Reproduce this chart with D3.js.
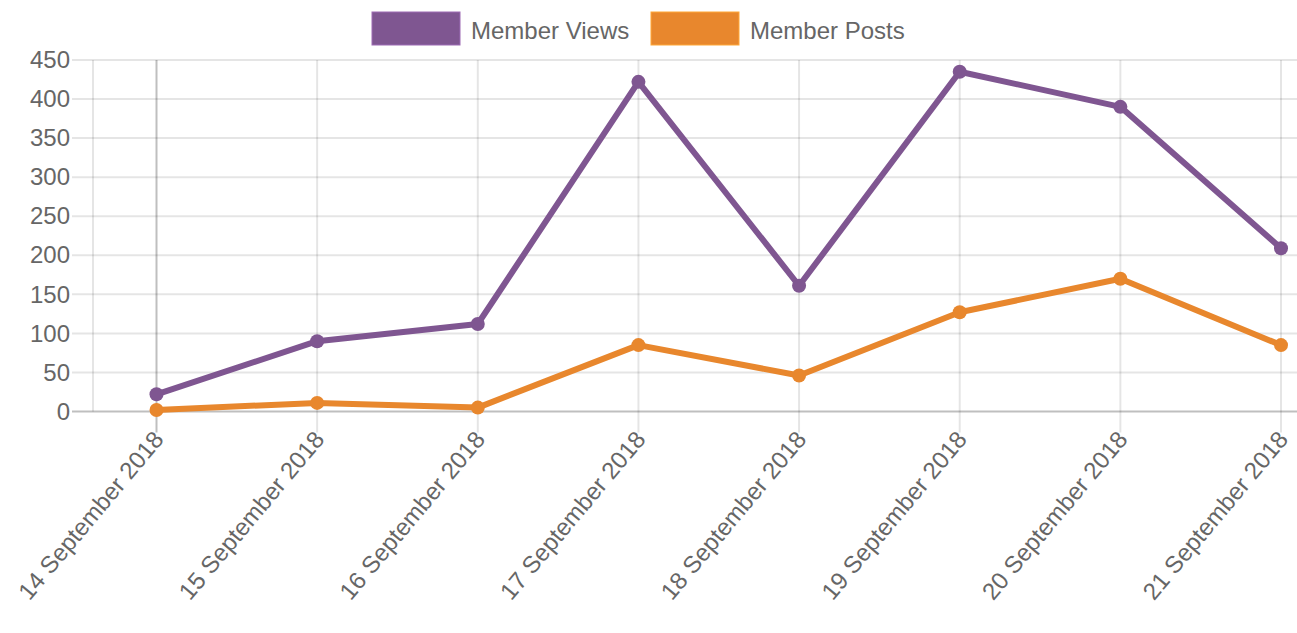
<!DOCTYPE html>
<html>
<head>
<meta charset="utf-8">
<script src="https://cdn.jsdelivr.net/npm/d3@7"></script>
<style>
  body { margin: 0; background: #fff; }
  svg text { font-family: "Liberation Sans", Arial, Helvetica, sans-serif; fill: #666; }
</style>
</head>
<body>
<div id="chart"></div>
<script>
const days = ['14 September 2018', '15 September 2018', '16 September 2018', '17 September 2018',
  '18 September 2018', '19 September 2018', '20 September 2018', '21 September 2018']
const memberViews = [22, 90, 112, 422, 161, 435, 390, 209]
const memberPosts = [2, 11, 5, 85, 46, 127, 170, 85]
const yTicks = [0, 50, 100, 150, 200, 250, 300, 350, 400, 450]
const seriesNames = ['Member Views', 'Member Posts']
const seriesColors = ['#7f5691', '#e8872d']

const w = 1297
const h = 633
const plot = { left: 93, right: 1297, top: 60, bottom: 411.5 }
const fontSize = 24

const svg = d3.select('#chart').append('svg')
  .attr('width', w)
  .attr('height', h)

const x = d3.scalePoint().domain(days).range([156.5, 1281])
const y = d3.scaleLinear().domain([0, 450]).range([plot.bottom, plot.top])

// horizontal grid
svg.append('g').selectAll('line')
  .data(yTicks)
  .enter().append('line')
  .attr('x1', 72)
  .attr('x2', plot.right)
  .attr('y1', d => y(d))
  .attr('y2', d => y(d))
  .attr('stroke', d => d === 0 ? 'rgba(0,0,0,0.25)' : 'rgba(0,0,0,0.1)')
  .attr('stroke-width', 2)

// vertical grid (first one is the zero line in chart.js)
svg.append('g').selectAll('line')
  .data(days)
  .enter().append('line')
  .attr('x1', d => x(d))
  .attr('x2', d => x(d))
  .attr('y1', plot.top)
  .attr('y2', plot.bottom + 21)
  .attr('stroke', (d, i) => i === 0 ? 'rgba(0,0,0,0.25)' : 'rgba(0,0,0,0.1)')
  .attr('stroke-width', 2)

svg.append('line')
  .attr('x1', plot.left).attr('x2', plot.left)
  .attr('y1', plot.top).attr('y2', plot.bottom)
  .attr('stroke', 'rgba(0,0,0,0.1)')
  .attr('stroke-width', 2)

// y axis labels
const yAxis = svg.append('g')
  .attr('transform', 'translate(72,0)')
  .call(d3.axisLeft(y).tickValues(yTicks).tickSize(0).tickPadding(2))
yAxis.select('.domain').remove()
yAxis.selectAll('text')
  .style('font-size', fontSize + 'px')
  .style('font-family', '"Liberation Sans", Arial, sans-serif')
  .attr('fill', '#666')

// x axis labels
svg.append('g').selectAll('text')
  .data(days)
  .enter().append('text')
  .attr('transform', d => 'translate(' + (x(d) + 2) + ',' + (plot.bottom + 23) + ') rotate(-50)')
  .attr('text-anchor', 'end')
  .attr('dy', '0.35em')
  .style('font-size', fontSize + 'px')
  .text(d => d)

const line = d3.line()
  .x((d, i) => x(days[i]))
  .y(d => y(d))

const series = [memberViews, memberPosts]
series.forEach(function (values, s) {
  svg.append('path')
    .datum(values)
    .attr('d', line)
    .attr('fill', 'none')
    .attr('stroke', seriesColors[s])
    .attr('stroke-width', 6)
    .attr('stroke-linejoin', 'round')

  svg.append('g').selectAll('circle')
    .data(values)
    .enter().append('circle')
    .attr('cx', (d, i) => x(days[i]))
    .attr('cy', d => y(d))
    .attr('r', 7)
    .attr('fill', seriesColors[s])
})

// legend
const legendX = [372, 651]
const legend = svg.append('g')
seriesNames.forEach(function (name, i) {
  legend.append('rect')
    .attr('x', legendX[i])
    .attr('y', 12)
    .attr('width', 88)
    .attr('height', 33)
    .attr('fill', seriesColors[i])
    .attr('stroke', d3.color(seriesColors[i]).brighter(0.6))
    .attr('stroke-width', 1)
  legend.append('text')
    .attr('x', legendX[i] + 99)
    .attr('y', 38.5)
    .style('font-size', fontSize + 'px')
    .text(name)
})
</script>
</body>
</html>
